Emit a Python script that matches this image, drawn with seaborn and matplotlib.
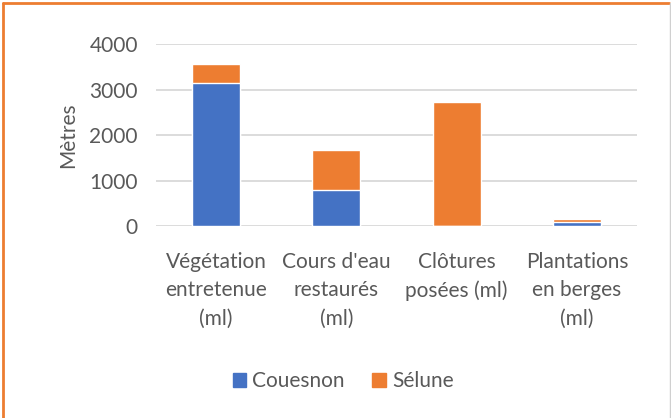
import pandas as pd
import numpy as np
import matplotlib.pyplot as plt
import seaborn as sns
from matplotlib.lines import Line2D
from matplotlib.patches import Patch

categories = ["Végétation\nentretenue\n(ml)", "Cours d'eau\nrestaurés\n(ml)",
              "Clôtures\nposées (ml)", "Plantations\nen berges\n(ml)"]
couesnon = [3140, 790, 0, 95]
selune = [410, 880, 2730, 50]

BLUE = "#4472C4"
ORANGE = "#ED7D31"
GREY = "#595959"

sns.set_style("white")
plt.rcParams['font.family'] = ['Lato', 'DejaVu Sans']

df = pd.DataFrame({"cat": categories, "Couesnon": couesnon, "Sélune": selune})
df["total"] = df["Couesnon"] + df["Sélune"]

fig = plt.figure(figsize=(6.71, 4.18), dpi=100)
ax = fig.add_axes([156 / 671, 1 - 226 / 418, 481 / 671, 182 / 418])

# empilement : total en orange, puis Couesnon par-dessus
sns.barplot(data=df, x="cat", y="total", color=ORANGE, width=0.4, ax=ax, saturation=1)
sns.barplot(data=df, x="cat", y="Couesnon", color=BLUE, width=0.4, ax=ax, saturation=1)

ax.set_ylim(0, 4000)
ax.set_yticks([0, 1000, 2000, 3000, 4000])
ax.yaxis.grid(True, color="#d9d9d9", linewidth=1.3)
ax.set_axisbelow(True)
for s in ax.spines.values():
    s.set_visible(False)
ax.tick_params(axis="both", length=0, labelsize=15, colors=GREY)
ax.tick_params(axis="x", pad=18.5)
ax.tick_params(axis="y", pad=13)
for lab in ax.get_xticklabels():
    lab.set_linespacing(1.55)
ax.set_xlabel("")
ax.set_ylabel("Mètres", fontsize=15, color=GREY, labelpad=8)

handles = [Patch(color=BLUE, label="Couesnon"), Patch(color=ORANGE, label="Sélune")]
fig.legend(handles=handles, loc="center", bbox_to_anchor=(343 / 671, 1 - 381 / 418), ncol=2,
           frameon=False, fontsize=15, labelcolor=GREY, handlelength=0.65,
           handleheight=0.65, handletextpad=0.3, columnspacing=1.3)

# cadre : orange en haut et à gauche, gris à droite
fig.add_artist(Line2D([0.004, 0.004], [0, 0.993], transform=fig.transFigure, color=ORANGE, lw=2))
fig.add_artist(Line2D([0.004, 0.997], [0.993, 0.993], transform=fig.transFigure, color=ORANGE, lw=2))
fig.add_artist(Line2D([0.998, 0.998], [0, 0.993], transform=fig.transFigure, color="#d0d0d0", lw=1))

plt.savefig("out.png", dpi=100)
plt.close()
